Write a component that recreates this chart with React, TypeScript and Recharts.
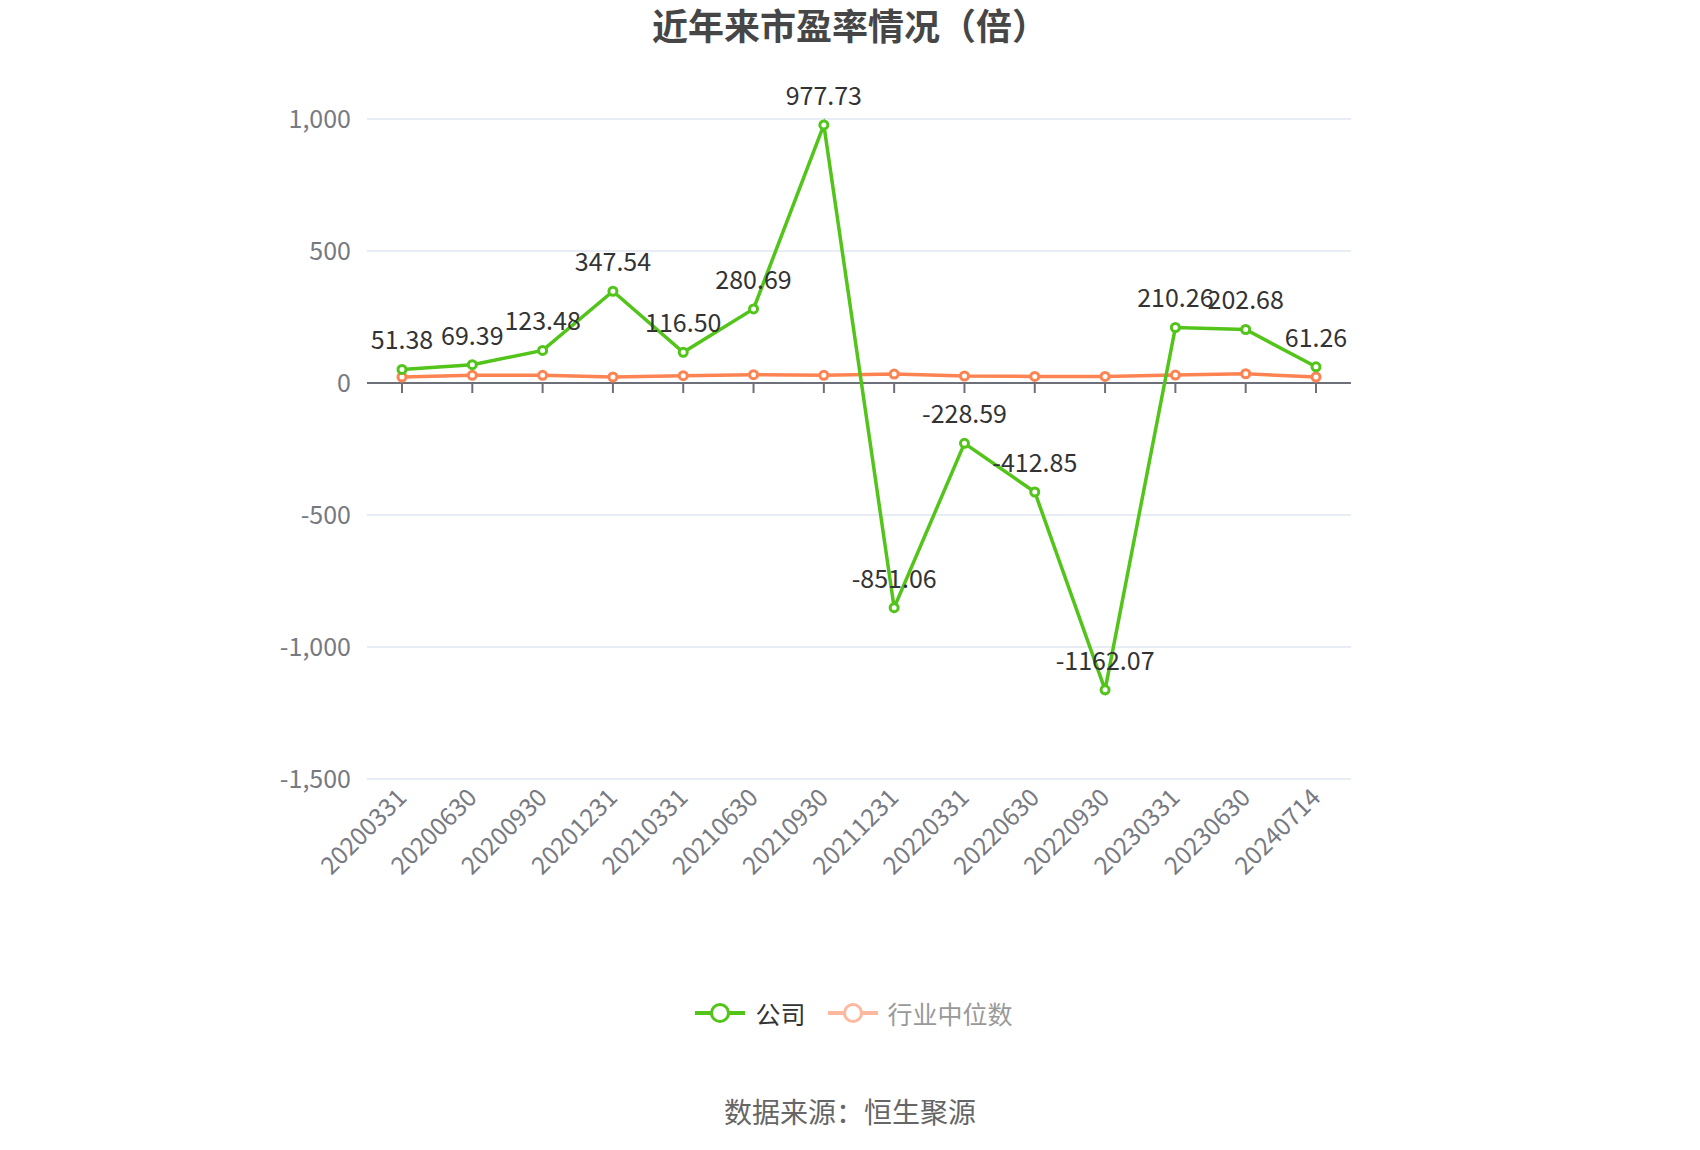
import React from "react";
import {
  LineChart,
  Line,
  XAxis,
  YAxis,
  CartesianGrid,
  Legend,
  LabelList,
  ReferenceLine,
  ReferenceDot
} from "recharts";

const dates = [
  "20200331", "20200630", "20200930", "20201231", "20210331", "20210630", "20210930",
  "20211231", "20220331", "20220630", "20220930", "20230331", "20230630", "20240714"
];
const companyPE = [
  51.38, 69.39, 123.48, 347.54, 116.5, 280.69, 977.73,
  -851.06, -228.59, -412.85, -1162.07, 210.26, 202.68, 61.26
];
const industryPE = [
  22.7, 29.0, 29.0, 22.7, 27.8, 31.5, 29.0,
  34.0, 26.5, 25.0, 25.0, 30.0, 35.0, 22.7
];
const yTicks = [-1500, -1000, -500, 0, 500, 1000];

const GREEN = "#52c41a";
const ORANGE = "#fd8452";
const FONT = '"Noto Sans CJK SC", "Microsoft YaHei", sans-serif';

const chartData = dates.map((date, i) => ({
  date,
  company: companyPE[i],
  industry: industryPE[i]
}));

const RotatedTick = (props: any) => {
  const { x, y, payload } = props;
  return (
    <g transform={`translate(${x},${y})`}>
      <text
        x={0}
        y={0}
        dy="0.35em"
        textAnchor="end"
        transform="rotate(-45)"
        fill="#777a82"
        fontSize={24.5}
        fontFamily={FONT}
      >
        {payload.value}
      </text>
    </g>
  );
};

// small tick marks hanging under the zero line
const ZeroTick = (props: any) => (
  <line x1={props.cx} y1={props.cy} x2={props.cx} y2={props.cy + 10} stroke="#6e7079" strokeWidth={2} />
);

const legendItems = [
  { name: "公司", color: GREEN, text: "#333" },
  { name: "行业中位数", color: "#fdb9a0", text: "#999" }
];

const renderLegend = () => (
  <div style={{ display: "flex", justifyContent: "center", alignItems: "center", fontFamily: FONT, paddingLeft: 30 }}>
    {legendItems.map((item) => (
      <div key={item.name} style={{ display: "flex", alignItems: "center", marginRight: 22 }}>
        <svg width={50} height={24}>
          <line x1={0} y1={12} x2={50} y2={12} stroke={item.color} strokeWidth={4} />
          <circle cx={25} cy={12} r={8.5} fill="#fff" stroke={item.color} strokeWidth={3} />
        </svg>
        <span style={{ marginLeft: 10, fontSize: 25, color: item.text }}>{item.name}</span>
      </div>
    ))}
  </div>
);

export default function App() {
  return (
    <div style={{ position: "absolute", left: 0, top: 0, width: 1700, height: 1150, background: "#fff" }}>
      <div
        style={{
          position: "absolute",
          top: 6,
          left: 0,
          width: 1700,
          textAlign: "center",
          fontFamily: FONT,
          fontWeight: "bold",
          fontSize: 36,
          lineHeight: "36px",
          color: "#464646"
        }}
      >
        近年来市盈率情况（倍）
      </div>
      <LineChart
        width={1700}
        height={1150}
        data={chartData}
        margin={{ top: 119, right: 349, left: 0, bottom: 251 }}
      >
        <CartesianGrid vertical={false} stroke="#e0e6f1" strokeWidth={1.5} />
        <XAxis
          dataKey="date"
          interval={0}
          axisLine={false}
          tickLine={false}
          tickSize={0}
          tickMargin={14}
          height={120}
          padding={{ left: 35, right: 35 }}
          tick={<RotatedTick />}
        />
        <YAxis
          width={367}
          domain={[-1500, 1000]}
          ticks={yTicks}
          axisLine={false}
          tickLine={false}
          tickSize={0}
          tickMargin={16}
          tickFormatter={(v: number) => v.toLocaleString("en-US")}
          tick={{ fill: "#777a82", fontSize: 25, fontFamily: FONT }}
        />
        <ReferenceLine y={0} stroke="#6e7079" strokeWidth={2} />
        {dates.map((d) => (
          <ReferenceDot key={d} x={d} y={0} r={0} shape={<ZeroTick />} />
        ))}
        <Legend
          verticalAlign="middle"
          align="center"
          layout="horizontal"
          content={renderLegend}
          wrapperStyle={{ top: 995, left: 0, width: 1700 }}
        />
        <Line
          dataKey="industry"
          name="行业中位数"
          stroke={ORANGE}
          strokeWidth={3.5}
          dot={{ r: 4, strokeWidth: 3, fill: "#fff", stroke: ORANGE }}
          isAnimationActive={false}
        />
        <Line
          dataKey="company"
          name="公司"
          stroke={GREEN}
          strokeWidth={3.5}
          dot={{ r: 4, strokeWidth: 3, fill: "#fff", stroke: GREEN }}
          isAnimationActive={false}
        >
          <LabelList
            dataKey="company"
            position="top"
            offset={20}
            formatter={(v: number) => v.toFixed(2)}
            style={{ fill: "#333", fontSize: 25, fontFamily: FONT }}
          />
        </Line>
      </LineChart>
      <div
        style={{
          position: "absolute",
          top: 1091,
          left: 0,
          width: 1700,
          textAlign: "center",
          fontFamily: FONT,
          fontSize: 28,
          color: "#666"
        }}
      >
        数据来源：恒生聚源
      </div>
    </div>
  );
}
